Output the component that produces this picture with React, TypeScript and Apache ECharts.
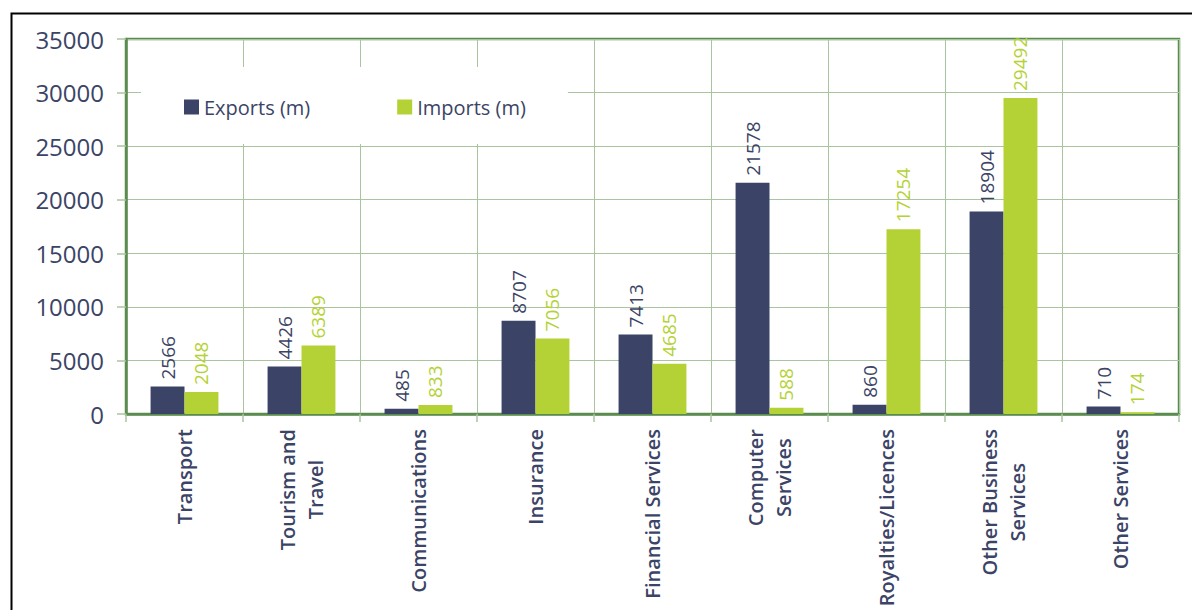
import React, { useEffect, useRef } from "react";
import * as echarts from "echarts";

const categories = [
  "Transport",
  "Tourism and\nTravel",
  "Communications",
  "Insurance",
  "Financial Services",
  "Computer\nServices",
  "Royalties/Licences",
  "Other Business\nServices",
  "Other Services",
];
const exportsValues = [2566, 4426, 485, 8707, 7413, 21578, 860, 18904, 710];
const importsValues = [2048, 6389, 833, 7056, 4685, 588, 17254, 29492, 174];
const seriesNames = ["Exports (m)", "Imports (m)"];
const yTicks = { min: 0, max: 35000, interval: 5000 };

const NAVY = "#3b4466";
const LIME = "#b4d235";
const DARK_GREEN = "#5b8c4f";
const LIGHT_GREEN = "#a9c59f";
const FONT = "Open Sans";

export default function App() {
  const ref = useRef<HTMLDivElement>(null);
  useEffect(() => {
    if (!ref.current) return;
    const chart = echarts.init(ref.current, null, { renderer: "svg" });
    const labelStyle = (color: string) => ({
      show: true,
      position: "top",
      rotate: 90,
      align: "left",
      verticalAlign: "middle",
      distance: 7,
      fontSize: 19,
      fontFamily: FONT,
      color,
    });
    chart.setOption({
      animation: false,
      backgroundColor: "#fff",
      textStyle: { fontFamily: FONT },
      graphic: [
        {
          type: "rect",
          shape: { x: 11.5, y: 13.5, width: 1300, height: 800 },
          style: { fill: "none", stroke: "#000", lineWidth: 2 },
          z: 100,
          silent: true,
        },
      ],
      legend: {
        left: 141,
        top: 67,
        backgroundColor: "#fff",
        padding: [30, 42, 27, 43],
        itemWidth: 15,
        itemHeight: 15,
        itemGap: 87,
        icon: "rect",
        textStyle: { fontSize: 20, color: NAVY, fontFamily: FONT },
        data: seriesNames,
      },
      grid: {
        left: 126,
        right: 13,
        top: 39,
        bottom: 196,
        show: true,
        borderColor: DARK_GREEN,
        borderWidth: 2.5,
        backgroundColor: "transparent",
      },
      xAxis: {
        type: "category",
        data: categories,
        boundaryGap: true,
        axisLine: { show: true, lineStyle: { color: DARK_GREEN, width: 2.5 } },
        axisTick: { show: true, length: 8, alignWithLabel: false, lineStyle: { color: LIGHT_GREEN, width: 1.5 } },
        splitLine: { show: true, lineStyle: { color: LIGHT_GREEN, width: 1 } },
        axisLabel: {
          interval: 0,
          rotate: 90,
          margin: 15,
          formatter: (v: string) =>
            v
              .split("\n")
              .map((l) => `{c|${l}}`)
              .join("\n"),
          rich: {
            c: {
              align: "center",
              fontSize: 20,
              fontWeight: 600,
              fontFamily: FONT,
              color: NAVY,
              lineHeight: 28,
            },
          },
        },
      },
      yAxis: {
        type: "value",
        min: yTicks.min,
        max: yTicks.max,
        interval: yTicks.interval,
        axisLine: { show: true, lineStyle: { color: DARK_GREEN, width: 2.5 } },
        axisTick: { show: true, length: 9, lineStyle: { color: LIGHT_GREEN, width: 1.5 } },
        splitLine: { show: true, lineStyle: { color: LIGHT_GREEN, width: 1 } },
        axisLabel: {
          fontSize: 24,
          color: NAVY,
          fontFamily: FONT,
          margin: 22,
          formatter: (v: number) => String(v),
        },
      },
      series: [
        {
          name: seriesNames[0],
          type: "bar",
          data: exportsValues,
          itemStyle: { color: NAVY },
          barGap: "0%",
          barCategoryGap: "42%",
          label: labelStyle(NAVY),
        },
        {
          name: seriesNames[1],
          type: "bar",
          data: importsValues,
          itemStyle: { color: LIME },
          barGap: "0%",
          barCategoryGap: "42%",
          label: labelStyle(LIME),
        },
      ],
    });
    return () => chart.dispose();
  }, []);
  return (
    <div
      ref={ref}
      style={{ position: "fixed", left: 0, top: 0, width: 1192, height: 610 }}
    />
  );
}
